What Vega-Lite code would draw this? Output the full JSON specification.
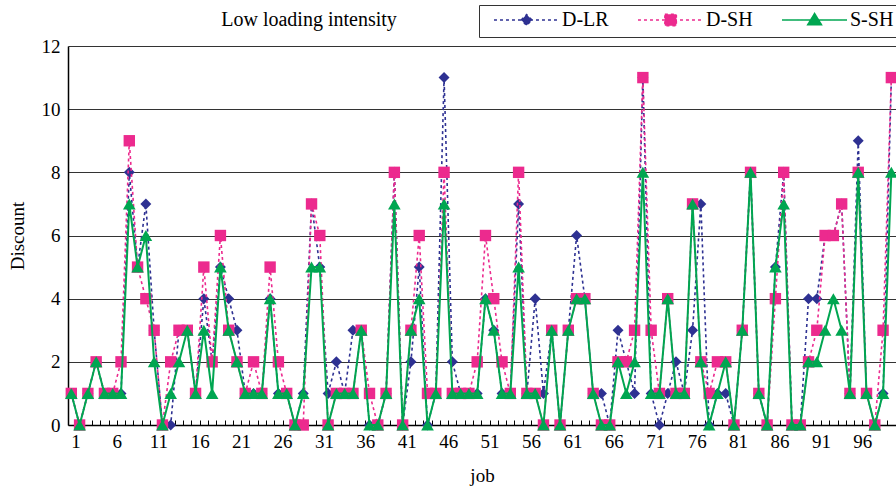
{
  "$schema": "https://vega.github.io/schema/vega-lite/v6.json",
  "autosize": {"type": "none"},
  "padding": {"left": 68, "top": 46, "right": 0, "bottom": 66},
  "width": 828,
  "height": 379,
  "background": "white",
  "config": {
    "view": {"stroke": null},
    "font": "Liberation Serif"
  },
  "title": {
    "text": "Low loading intensity",
    "font": "Liberation Serif",
    "fontSize": 20,
    "fontWeight": "normal",
    "color": "#000",
    "anchor": "middle",
    "dx": -173,
    "dy": 39,
    "offset": 14
  },
  "data": {
    "values": [
      {"job": 1, "D-LR": 1, "D-SH": 1, "S-SH": 1},
      {"job": 2, "D-LR": 0, "D-SH": 0, "S-SH": 0},
      {"job": 3, "D-LR": 1, "D-SH": 1, "S-SH": 1},
      {"job": 4, "D-LR": 2, "D-SH": 2, "S-SH": 2},
      {"job": 5, "D-LR": 1, "D-SH": 1, "S-SH": 1},
      {"job": 6, "D-LR": 1, "D-SH": 1, "S-SH": 1},
      {"job": 7, "D-LR": 1, "D-SH": 2, "S-SH": 1},
      {"job": 8, "D-LR": 8, "D-SH": 9, "S-SH": 7},
      {"job": 9, "D-LR": 5, "D-SH": 5, "S-SH": 5},
      {"job": 10, "D-LR": 7, "D-SH": 4, "S-SH": 6},
      {"job": 11, "D-LR": 3, "D-SH": 3, "S-SH": 2},
      {"job": 12, "D-LR": 0, "D-SH": 0, "S-SH": 0},
      {"job": 13, "D-LR": 0, "D-SH": 2, "S-SH": 1},
      {"job": 14, "D-LR": 3, "D-SH": 3, "S-SH": 2},
      {"job": 15, "D-LR": 3, "D-SH": 3, "S-SH": 3},
      {"job": 16, "D-LR": 1, "D-SH": 1, "S-SH": 1},
      {"job": 17, "D-LR": 4, "D-SH": 5, "S-SH": 3},
      {"job": 18, "D-LR": 2, "D-SH": 2, "S-SH": 1},
      {"job": 19, "D-LR": 5, "D-SH": 6, "S-SH": 5},
      {"job": 20, "D-LR": 4, "D-SH": 3, "S-SH": 3},
      {"job": 21, "D-LR": 3, "D-SH": 2, "S-SH": 2},
      {"job": 22, "D-LR": 1, "D-SH": 1, "S-SH": 1},
      {"job": 23, "D-LR": 1, "D-SH": 2, "S-SH": 1},
      {"job": 24, "D-LR": 1, "D-SH": 1, "S-SH": 1},
      {"job": 25, "D-LR": 4, "D-SH": 5, "S-SH": 4},
      {"job": 26, "D-LR": 1, "D-SH": 2, "S-SH": 1},
      {"job": 27, "D-LR": 1, "D-SH": 1, "S-SH": 1},
      {"job": 28, "D-LR": 0, "D-SH": 0, "S-SH": 0},
      {"job": 29, "D-LR": 1, "D-SH": 0, "S-SH": 1},
      {"job": 30, "D-LR": 7, "D-SH": 7, "S-SH": 5},
      {"job": 31, "D-LR": 5, "D-SH": 6, "S-SH": 5},
      {"job": 32, "D-LR": 1, "D-SH": 0, "S-SH": 0},
      {"job": 33, "D-LR": 2, "D-SH": 1, "S-SH": 1},
      {"job": 34, "D-LR": 1, "D-SH": 1, "S-SH": 1},
      {"job": 35, "D-LR": 3, "D-SH": 1, "S-SH": 1},
      {"job": 36, "D-LR": 3, "D-SH": 3, "S-SH": 3},
      {"job": 37, "D-LR": 0, "D-SH": 1, "S-SH": 0},
      {"job": 38, "D-LR": 0, "D-SH": 0, "S-SH": 0},
      {"job": 39, "D-LR": 1, "D-SH": 1, "S-SH": 1},
      {"job": 40, "D-LR": 8, "D-SH": 8, "S-SH": 7},
      {"job": 41, "D-LR": 0, "D-SH": 0, "S-SH": 0},
      {"job": 42, "D-LR": 2, "D-SH": 3, "S-SH": 3},
      {"job": 43, "D-LR": 5, "D-SH": 6, "S-SH": 4},
      {"job": 44, "D-LR": 0, "D-SH": 1, "S-SH": 0},
      {"job": 45, "D-LR": 1, "D-SH": 1, "S-SH": 1},
      {"job": 46, "D-LR": 11, "D-SH": 8, "S-SH": 7},
      {"job": 47, "D-LR": 2, "D-SH": 1, "S-SH": 1},
      {"job": 48, "D-LR": 1, "D-SH": 1, "S-SH": 1},
      {"job": 49, "D-LR": 1, "D-SH": 1, "S-SH": 1},
      {"job": 50, "D-LR": 1, "D-SH": 2, "S-SH": 1},
      {"job": 51, "D-LR": 4, "D-SH": 6, "S-SH": 4},
      {"job": 52, "D-LR": 3, "D-SH": 4, "S-SH": 3},
      {"job": 53, "D-LR": 1, "D-SH": 2, "S-SH": 1},
      {"job": 54, "D-LR": 1, "D-SH": 1, "S-SH": 1},
      {"job": 55, "D-LR": 7, "D-SH": 8, "S-SH": 5},
      {"job": 56, "D-LR": 1, "D-SH": 1, "S-SH": 1},
      {"job": 57, "D-LR": 4, "D-SH": 1, "S-SH": 1},
      {"job": 58, "D-LR": 1, "D-SH": 0, "S-SH": 0},
      {"job": 59, "D-LR": 3, "D-SH": 3, "S-SH": 3},
      {"job": 60, "D-LR": 0, "D-SH": 0, "S-SH": 0},
      {"job": 61, "D-LR": 3, "D-SH": 3, "S-SH": 3},
      {"job": 62, "D-LR": 6, "D-SH": 4, "S-SH": 4},
      {"job": 63, "D-LR": 4, "D-SH": 4, "S-SH": 4},
      {"job": 64, "D-LR": 1, "D-SH": 1, "S-SH": 1},
      {"job": 65, "D-LR": 1, "D-SH": 0, "S-SH": 0},
      {"job": 66, "D-LR": 0, "D-SH": 0, "S-SH": 0},
      {"job": 67, "D-LR": 3, "D-SH": 2, "S-SH": 2},
      {"job": 68, "D-LR": 2, "D-SH": 2, "S-SH": 1},
      {"job": 69, "D-LR": 1, "D-SH": 3, "S-SH": 2},
      {"job": 70, "D-LR": 11, "D-SH": 11, "S-SH": 8},
      {"job": 71, "D-LR": 1, "D-SH": 3, "S-SH": 1},
      {"job": 72, "D-LR": 0, "D-SH": 1, "S-SH": 1},
      {"job": 73, "D-LR": 1, "D-SH": 4, "S-SH": 4},
      {"job": 74, "D-LR": 2, "D-SH": 1, "S-SH": 1},
      {"job": 75, "D-LR": 1, "D-SH": 1, "S-SH": 1},
      {"job": 76, "D-LR": 3, "D-SH": 7, "S-SH": 7},
      {"job": 77, "D-LR": 7, "D-SH": 2, "S-SH": 2},
      {"job": 78, "D-LR": 0, "D-SH": 1, "S-SH": 0},
      {"job": 79, "D-LR": 1, "D-SH": 2, "S-SH": 1},
      {"job": 80, "D-LR": 1, "D-SH": 2, "S-SH": 2},
      {"job": 81, "D-LR": 0, "D-SH": 0, "S-SH": 0},
      {"job": 82, "D-LR": 3, "D-SH": 3, "S-SH": 3},
      {"job": 83, "D-LR": 8, "D-SH": 8, "S-SH": 8},
      {"job": 84, "D-LR": 1, "D-SH": 1, "S-SH": 1},
      {"job": 85, "D-LR": 0, "D-SH": 0, "S-SH": 0},
      {"job": 86, "D-LR": 5, "D-SH": 4, "S-SH": 5},
      {"job": 87, "D-LR": 8, "D-SH": 8, "S-SH": 7},
      {"job": 88, "D-LR": 0, "D-SH": 0, "S-SH": 0},
      {"job": 89, "D-LR": 0, "D-SH": 0, "S-SH": 0},
      {"job": 90, "D-LR": 4, "D-SH": 2, "S-SH": 2},
      {"job": 91, "D-LR": 4, "D-SH": 3, "S-SH": 2},
      {"job": 92, "D-LR": 6, "D-SH": 6, "S-SH": 3},
      {"job": 93, "D-LR": 6, "D-SH": 6, "S-SH": 4},
      {"job": 94, "D-LR": 7, "D-SH": 7, "S-SH": 3},
      {"job": 95, "D-LR": 1, "D-SH": 1, "S-SH": 1},
      {"job": 96, "D-LR": 9, "D-SH": 8, "S-SH": 8},
      {"job": 97, "D-LR": 1, "D-SH": 1, "S-SH": 1},
      {"job": 98, "D-LR": 0, "D-SH": 0, "S-SH": 0},
      {"job": 99, "D-LR": 1, "D-SH": 3, "S-SH": 1},
      {"job": 100, "D-LR": 11, "D-SH": 11, "S-SH": 8}
    ]
  },
  "transform": [{"fold": ["D-LR", "D-SH", "S-SH"], "as": ["series", "discount"]}],
  "encoding": {
    "x": {
      "field": "job",
      "type": "quantitative",
      "scale": {"domain": [0.6, 100.56], "nice": false, "zero": false},
      "axis": {
        "title": "job",
        "values": [1.5,2.5,3.5,4.5,5.5,6.5,7.5,8.5,9.5,10.5,11.5,12.5,13.5,14.5,15.5,16.5,17.5,18.5,19.5,20.5,21.5,22.5,23.5,24.5,25.5,26.5,27.5,28.5,29.5,30.5,31.5,32.5,33.5,34.5,35.5,36.5,37.5,38.5,39.5,40.5,41.5,42.5,43.5,44.5,45.5,46.5,47.5,48.5,49.5,50.5,51.5,52.5,53.5,54.5,55.5,56.5,57.5,58.5,59.5,60.5,61.5,62.5,63.5,64.5,65.5,66.5,67.5,68.5,69.5,70.5,71.5,72.5,73.5,74.5,75.5,76.5,77.5,78.5,79.5,80.5,81.5,82.5,83.5,84.5,85.5,86.5,87.5,88.5,89.5,90.5,91.5,92.5,93.5,94.5,95.5,96.5,97.5,98.5,99.5],
        "labelExpr": "(datum.value - 1.5) % 5 == 0 ? format(datum.value - 0.5, 'd') : ''",
        "labelOverlap": false,
        "labelFlush": false,
        "labelBound": false,
        "grid": false,
        "tickSize": -5,
        "tickColor": "#000",
        "tickWidth": 1,
        "domainColor": "#000",
        "domainWidth": 1.5,
        "labelPadding": 12,
        "labelFont": "Liberation Serif",
        "labelFontSize": 19,
        "labelColor": "#000",
        "titleFont": "Liberation Serif",
        "titleFontSize": 19,
        "titleFontWeight": "normal",
        "titleColor": "#000",
        "titlePadding": 15
      }
    },
    "y": {
      "field": "discount",
      "type": "quantitative",
      "scale": {"domain": [0, 12], "nice": false},
      "axis": {
        "title": "Discount",
        "values": [0, 2, 4, 6, 8, 10, 12],
        "grid": true,
        "gridColor": "#333",
        "gridWidth": 1,
        "ticks": false,
        "domainColor": "#000",
        "domainWidth": 1.5,
        "labelPadding": 8,
        "labelFont": "Liberation Serif",
        "labelFontSize": 19,
        "labelColor": "#000",
        "titleFont": "Liberation Serif",
        "titleFontSize": 19,
        "titleFontWeight": "normal",
        "titleColor": "#000",
        "titlePadding": 14
      }
    }
  },
  "layer": [
    {
      "transform": [{"filter": "datum.series == 'D-LR'"}],
      "mark": {"type": "line", "color": "#2E3192", "strokeWidth": 1.6, "strokeDash": [3, 3]}
    },
    {
      "transform": [{"filter": "datum.series == 'D-LR'"}],
      "mark": {"type": "point", "shape": "diamond", "filled": true, "color": "#2E3192", "size": 120, "opacity": 1}
    },
    {
      "transform": [{"filter": "datum.series == 'D-SH'"}],
      "mark": {"type": "line", "color": "#EC2A8E", "strokeWidth": 1.6, "strokeDash": [3, 3]}
    },
    {
      "transform": [{"filter": "datum.series == 'D-SH'"}],
      "mark": {"type": "point", "shape": "square", "filled": true, "color": "#EC2A8E", "size": 130, "opacity": 1}
    },
    {
      "transform": [{"filter": "datum.series == 'S-SH'"}],
      "mark": {"type": "line", "color": "#00A651", "strokeWidth": 2}
    },
    {
      "transform": [{"filter": "datum.series == 'S-SH'"}],
      "mark": {"type": "point", "shape": "triangle-up", "filled": true, "color": "#00A651", "size": 160, "opacity": 1}
    },
    {
      "mark": {"type": "point", "filled": true, "opacity": 0, "strokeWidth": 1.5},
      "encoding": {
        "shape": {
          "field": "series", "type": "nominal",
          "scale": {"domain": ["D-LR", "D-SH", "S-SH"], "range": [
            "M -0.806 0 L 1 0 M -0.05 0 L 0.1 -0.15 L 0.25 0 L 0.1 0.15 Z",
            "M -0.806 0 L 1 0 M -0.06 -0.16 L 0.26 -0.16 L 0.26 0.16 L -0.06 0.16 Z",
            "M -0.806 0 L 1 0 M 0.1 -0.18 L 0.29 0.13 L -0.09 0.13 Z"
          ]},
          "legend": {"title": null, "orient": "none", "legendX": 411, "legendY": -41, "direction": "horizontal", "symbolSize": 5184, "clipHeight": 16, "labelFont": "Liberation Serif", "labelFontSize": 20, "labelColor": "#000", "labelOffset": 2, "columnPadding": 21, "padding": 7, "strokeColor": "#333", "symbolStrokeWidth": 1.5, "symbolOpacity": 1, "labelLimit": 0}
        },
        "fill": {
          "field": "series", "type": "nominal",
          "scale": {"domain": ["D-LR", "D-SH", "S-SH"], "range": ["#2E3192", "#EC2A8E", "#00A651"]},
          "legend": {"title": null, "orient": "none", "legendX": 411, "legendY": -41, "direction": "horizontal", "symbolSize": 5184, "clipHeight": 16, "labelFont": "Liberation Serif", "labelFontSize": 20, "labelColor": "#000", "labelOffset": 2, "columnPadding": 21, "padding": 7, "strokeColor": "#333", "symbolStrokeWidth": 1.5, "symbolOpacity": 1, "labelLimit": 0}
        },
        "stroke": {
          "field": "series", "type": "nominal",
          "scale": {"domain": ["D-LR", "D-SH", "S-SH"], "range": ["#2E3192", "#EC2A8E", "#00A651"]},
          "legend": {"title": null, "orient": "none", "legendX": 411, "legendY": -41, "direction": "horizontal", "symbolSize": 5184, "clipHeight": 16, "labelFont": "Liberation Serif", "labelFontSize": 20, "labelColor": "#000", "labelOffset": 2, "columnPadding": 21, "padding": 7, "strokeColor": "#333", "symbolStrokeWidth": 1.5, "symbolOpacity": 1, "labelLimit": 0}
        },
        "strokeDash": {
          "field": "series", "type": "nominal",
          "scale": {"domain": ["D-LR", "D-SH", "S-SH"], "range": [[3, 3], [3, 3], [1, 0]]},
          "legend": {"title": null, "orient": "none", "legendX": 411, "legendY": -41, "direction": "horizontal", "symbolSize": 5184, "clipHeight": 16, "labelFont": "Liberation Serif", "labelFontSize": 20, "labelColor": "#000", "labelOffset": 2, "columnPadding": 21, "padding": 7, "strokeColor": "#333", "symbolStrokeWidth": 1.5, "symbolOpacity": 1, "labelLimit": 0}
        }
      }
    }
  ]
}
